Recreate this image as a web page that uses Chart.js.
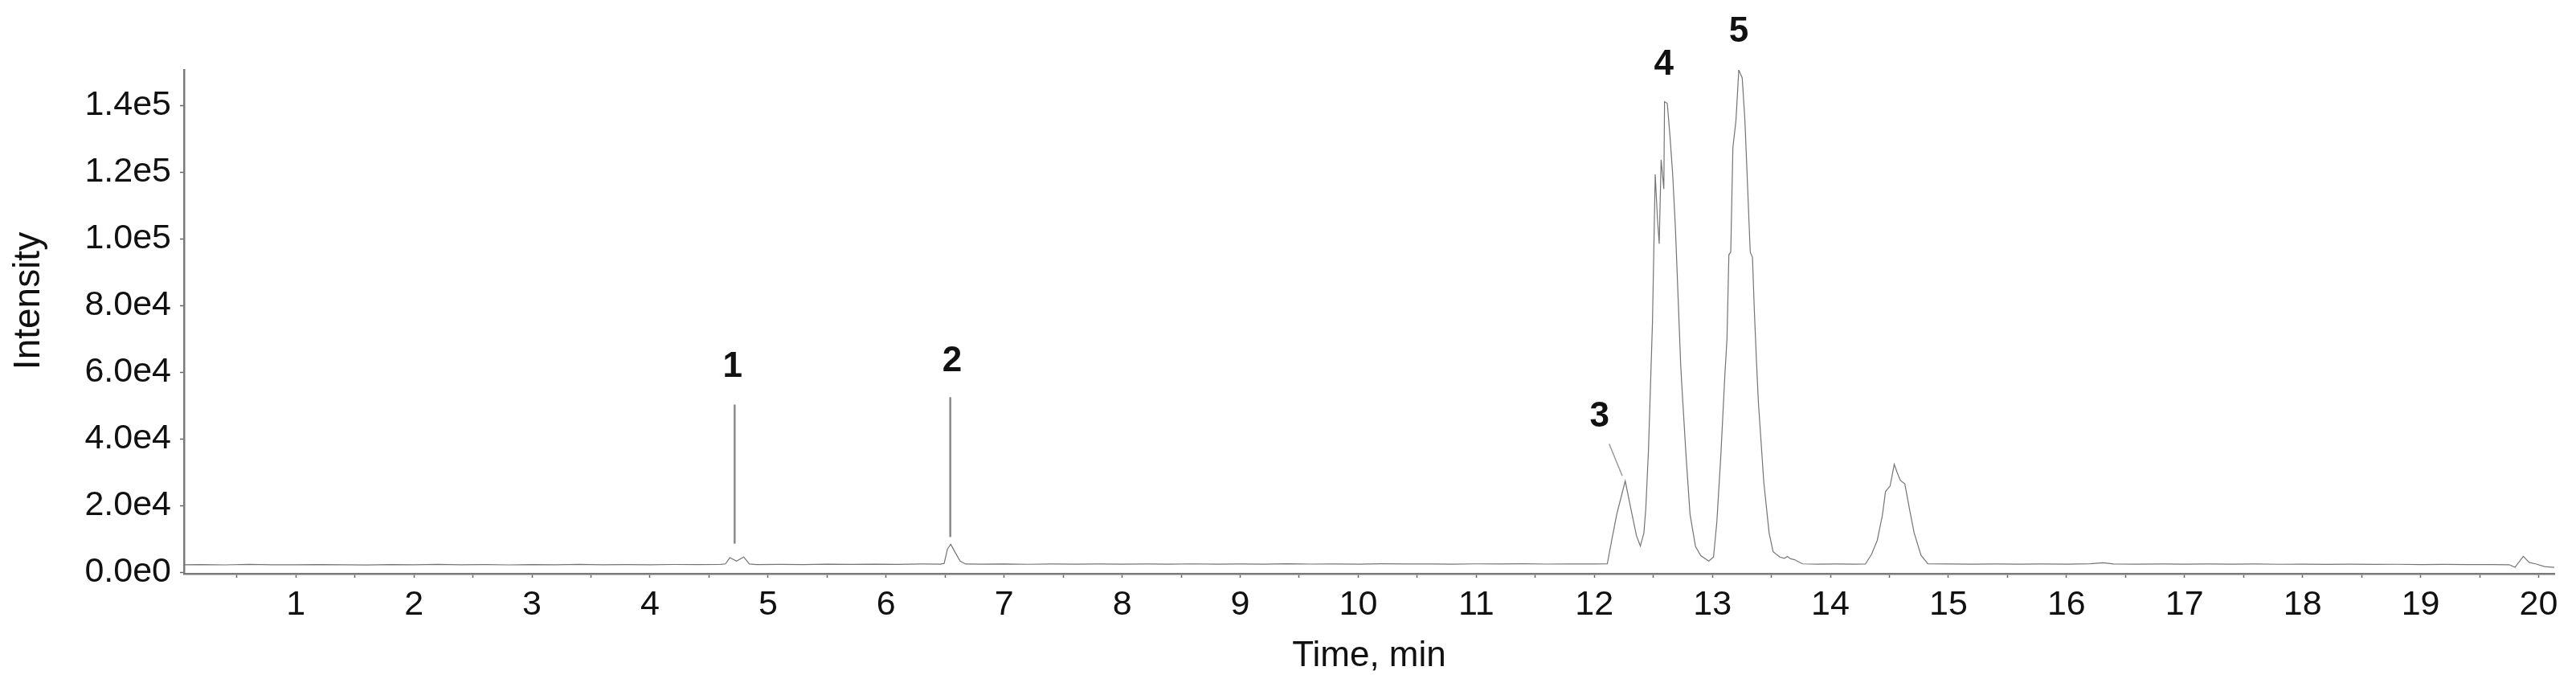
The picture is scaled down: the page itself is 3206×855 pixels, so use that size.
<!DOCTYPE html>
<html><head><meta charset="utf-8">
<script src="https://cdn.jsdelivr.net/npm/chart.js@4.4.1/dist/chart.umd.min.js"></script>
<style>html,body{margin:0;padding:0;background:#fff}canvas{display:block}</style>
</head><body>
<canvas id="c" width="3206" height="855"></canvas>
<script>
// Retention time (min) and intensity of the chromatogram trace
const timeMin = [
  0.05,0.2,0.4,0.6,0.8,1.0,1.2,1.4,1.6,1.8,2.0,2.2,2.4,2.6,2.8,3.0,3.2,3.4,3.6,3.8,4.0,4.2,4.4,4.6,
  4.64,4.676,4.733,4.794,4.842,4.9,5.1,5.3,5.5,5.7,5.9,6.1,6.3,6.46,
  6.492,6.52,6.548,6.582,6.627,6.673,6.8,7.0,7.2,7.4,7.6,7.8,8.0,8.2,8.4,8.6,8.8,9.0,9.2,9.4,9.6,9.8,
  10.0,10.2,10.4,10.6,10.8,11.0,11.2,11.4,11.6,11.8,12.0,12.11,
  12.142,12.19,12.262,12.31,12.357,12.39,12.42,12.436,12.459,12.493,12.516,12.535,12.55,12.566,12.589,
  12.595,12.618,12.64,12.664,12.687,12.709,12.732,12.743,12.777,12.811,12.857,12.902,12.97,13.01,
  13.038,13.072,13.106,13.124,13.14,13.156,13.174,13.2,13.224,13.253,13.276,13.299,13.321,13.34,
  13.355,13.374,13.39,13.436,13.481,13.515,13.571,13.61,13.635,13.66,13.696,13.764,13.9,14.05,14.2,
  14.297,14.35,14.397,14.44,14.467,14.506,14.541,14.565,14.592,14.631,14.67,14.709,14.768,14.826,
  15.0,15.2,15.4,15.6,15.8,16.0,16.2,16.31,16.4,16.6,16.8,17.0,17.2,17.4,17.6,17.8,18.0,18.2,18.4,
  18.6,18.8,19.0,19.2,19.4,19.6,19.75,19.8,19.87,19.92,19.98,20.05,20.135
];
const intensity = [
  2300,2350,2250,2380,2300,2260,2360,2300,2240,2350,2300,2380,2280,2330,2250,2360,2300,2390,2280,2340,2300,2370,2320,2400,
  2550,4400,3400,4600,2500,2350,2420,2350,2450,2380,2480,2420,2500,2450,
  2700,7000,8400,6200,3400,2500,2450,2520,2430,2500,2460,2540,2470,2520,2450,2550,2480,2530,2470,2560,2490,2530,
  2480,2560,2500,2540,2470,2550,2500,2560,2490,2540,2500,2550,
  8600,17400,27400,19000,11000,7900,11800,19000,36700,75200,119300,106000,98500,123700,114900,
  141100,140600,131300,119300,103300,83200,62000,55100,35100,17400,7800,5000,3400,4600,
  15000,35100,59100,70000,95200,96000,127300,135400,150600,148200,135400,115300,96000,94400,
  79200,63100,51100,27000,11800,6200,4600,4200,4800,4100,3800,2550,2480,2520,2460,
  2500,5500,9600,17000,24200,25900,32400,30000,27600,26500,19000,11900,5100,2550,
  2500,2460,2530,2470,2540,2480,2560,2900,2520,2470,2530,2460,2520,2450,2500,2430,2480,2410,2460,
  2380,2430,2350,2400,2330,2350,2300,1500,4800,3000,2500,1750,1500
];

// Axis ticks
const xTickValues = [0.5,1,1.5,2,2.5,3,3.5,4,4.5,5,5.5,6,6.5,7,7.5,8,8.5,9,9.5,10,10.5,11,11.5,12,12.5,13,13.5,14,14.5,15,15.5,16,16.5,17,17.5,18,18.5,19,19.5,20];
const yTickValues = [0,10000,20000,30000,40000,50000,60000,70000,80000,90000,100000,110000,120000,130000,140000];

// Peak numbers and their leader lines (time, intensity)
const peakLabels = ['1','2','3','4','5'];
const peakLabelTime = [4.70, 6.56, 12.044, 12.589, 13.224];
const peakLabelIntensity = [61500, 63300, 46500, 152000, 162000];
const leaderStart = [[4.717,50300],[6.544,52500],[12.126,38500],null,null];
const leaderEnd = [[4.717,8600],[6.544,10600],[12.237,28900],null,null];

const FONT = "'Liberation Sans', Arial, sans-serif";
const Y_TITLE = 'Intensity';

const peakPlugin = {
  id: 'peaks',
  afterDatasetsDraw(chart) {
    const {ctx, scales:{x, y}} = chart;
    ctx.save();
    for (let i = 0; i < peakLabels.length; i++) {
      if (leaderStart[i]) {
        ctx.beginPath();
        ctx.strokeStyle = i < 2 ? '#8a8a8a' : '#999';
        ctx.lineWidth = i < 2 ? 2.5 : 1.5;
        ctx.moveTo(x.getPixelForValue(leaderStart[i][0]), y.getPixelForValue(leaderStart[i][1]));
        ctx.lineTo(x.getPixelForValue(leaderEnd[i][0]), y.getPixelForValue(leaderEnd[i][1]));
        ctx.stroke();
      }
      ctx.fillStyle = '#111';
      ctx.font = 'bold 44px ' + FONT;
      ctx.textAlign = 'center';
      ctx.textBaseline = 'middle';
      ctx.fillText(peakLabels[i], x.getPixelForValue(peakLabelTime[i]), y.getPixelForValue(peakLabelIntensity[i]));
    }
    // y-axis title, placed a little above the middle of the axis as in the original
    const ca = chart.chartArea;
    ctx.translate(36, (ca.top + ca.bottom) / 2 - 26);
    ctx.rotate(-Math.PI / 2);
    ctx.font = '46px ' + FONT;
    ctx.fillText(Y_TITLE, 0, 0);
    ctx.restore();
  }
};

new Chart(document.getElementById('c'), {
  type: 'line',
  data: {
    datasets: [{
      data: timeMin.map((t, i) => ({x: t, y: intensity[i]})),
      borderColor: '#747474',
      borderWidth: 1.2,
      pointRadius: 0,
      tension: 0,
      fill: false
    }]
  },
  options: {
    responsive: false,
    animation: false,
    devicePixelRatio: 1,
    layout: {padding: {left: 0, right: 27, top: 87, bottom: 0}},
    plugins: {legend: {display: false}, tooltip: {enabled: false}},
    scales: {
      x: {
        type: 'linear',
        min: 0.052, max: 20.133,
        afterFit: s => { s.height = 141; },
        afterBuildTicks: s => { s.ticks = xTickValues.map(v => ({value: v})); },
        ticks: {
          autoSkip: false, maxRotation: 0, minRotation: 0, padding: 8,
          color: '#111', font: {family: FONT, size: 43},
          callback: v => Number.isInteger(v) ? String(v) : ''
        },
        grid: {display: true, drawOnChartArea: false, drawTicks: true, tickLength: 5, tickWidth: 1.5, tickColor: '#666'},
        border: {display: true, color: '#7a7a7a', width: 2.5},
        title: {display: true, text: 'Time, min', color: '#111', font: {family: FONT, size: 44}, padding: {top: 0, bottom: 12}}
      },
      y: {
        min: -400, max: 150600,
        afterFit: s => { s.width = 229; },
        afterBuildTicks: s => { s.ticks = yTickValues.map(v => ({value: v})); },
        ticks: {
          padding: 11, color: '#111', font: {family: FONT, size: 43},
          callback: v => v === 0 ? '0.0e0' : (v % 20000 === 0 ? v.toExponential(1).replace('+', '') : '')
        },
        grid: {display: true, drawOnChartArea: false, drawTicks: true, tickLength: 5, tickWidth: 1.5, tickColor: '#666'},
        border: {display: true, color: '#7a7a7a', width: 2.5},
        title: {display: false}
      }
    }
  },
  plugins: [peakPlugin]
});
</script>
</body></html>
